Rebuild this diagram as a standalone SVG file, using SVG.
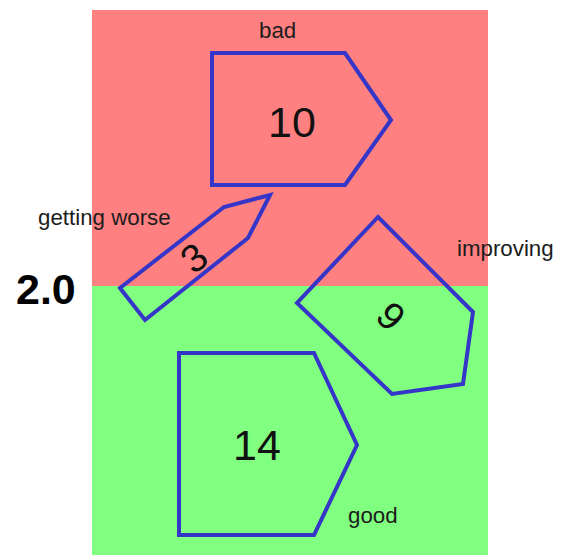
<svg xmlns="http://www.w3.org/2000/svg" width="562" height="555" viewBox="0 0 562 555">
  <style>
    .shape { stroke: #3535c8; stroke-width: 4; stroke-linejoin: miter; }
    .num { font-family: "Liberation Sans", Arial, sans-serif; fill: #111; text-anchor: middle; }
    .lbl { font-family: "Liberation Sans", Arial, sans-serif; font-size: 22.3px; fill: #1c1c1c; }
  </style>
  <rect width="562" height="555" fill="#ffffff"/>
  <!-- zones -->
  <g id="zones">
    <rect x="92" y="10" width="396" height="276" fill="#ff8080"/>
    <rect x="92" y="286" width="396" height="269" fill="#80ff80"/>
  </g>
  <text id="threshold" x="16" y="304" font-family="Liberation Sans, Arial, sans-serif" font-size="43" font-weight="bold" fill="#000">2.0</text>
  <g id="node-10">
    <polygon class="shape" fill="#ff8080" points="212,53 345,53 391,120 345,185 212,185"/>
    <text class="num" x="292" y="137" font-size="43">10</text>
  </g>
  <g id="node-3">
    <polygon class="shape" fill="none" points="120,288 224,207 270,195 248,238 145,320"/>
    <text class="num" font-size="39" transform="translate(194,258) rotate(-38)" dominant-baseline="central">3</text>
  </g>
  <g id="node-9">
    <polygon class="shape" fill="none" points="378,217 473,312 463,384 392,394 297,303"/>
    <text class="num" font-size="39" transform="translate(391,316) rotate(45)" dominant-baseline="central">9</text>
  </g>
  <g id="node-14">
    <polygon class="shape" fill="#80ff80" points="179,353 314,353 357,445 314,535 179,535"/>
    <text class="num" x="257" y="460" font-size="43">14</text>
  </g>
  <g id="labels">
    <text class="lbl" x="38" y="225">getting worse</text>
    <text class="lbl" x="259" y="38">bad</text>
    <text class="lbl" x="457" y="256">improving</text>
    <text class="lbl" x="348" y="523">good</text>
  </g>
</svg>
